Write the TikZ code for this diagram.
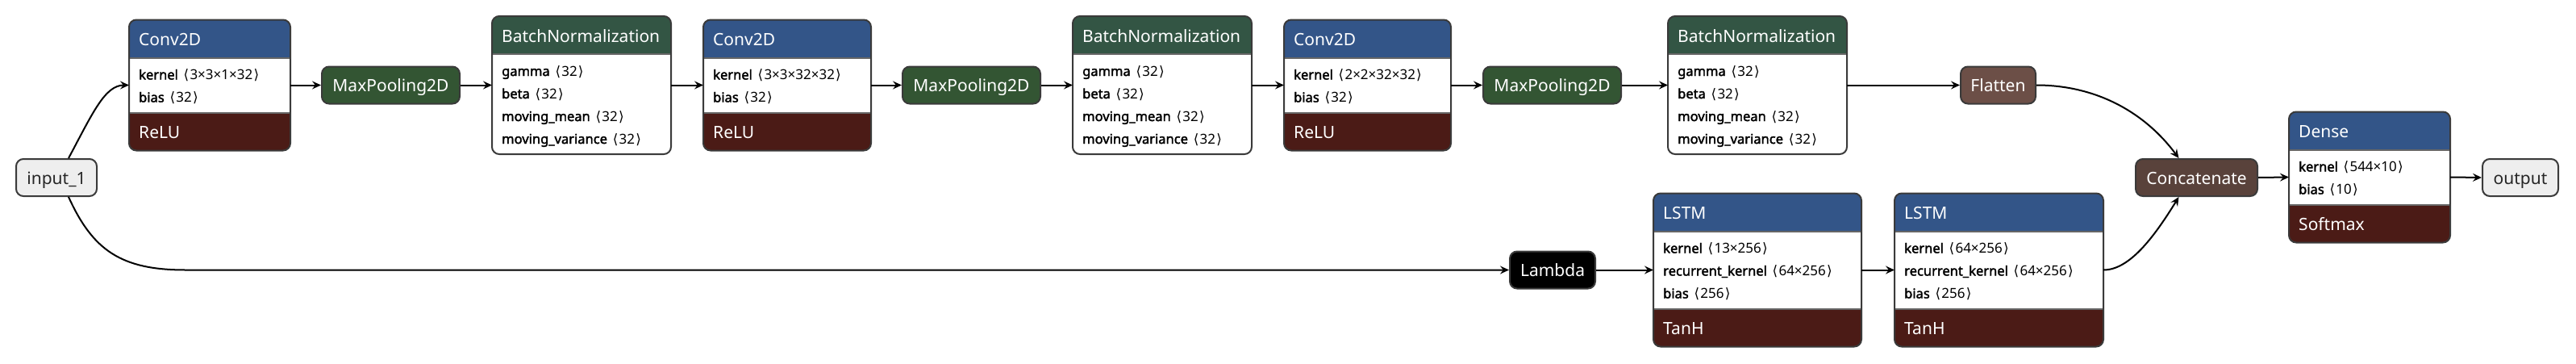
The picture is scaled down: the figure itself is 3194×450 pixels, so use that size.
\documentclass[tikz,border=0pt]{standalone}
\usepackage{fontspec}
\setmainfont{Noto Sans}[AutoFakeBold=2.2]
\newfontfamily\dvf{DejaVu Sans}
\usetikzlibrary{arrows.meta}
\definecolor{layerc}{HTML}{335588}
\definecolor{poolc}{HTML}{335533}
\definecolor{normc}{HTML}{335544}
\definecolor{actc}{HTML}{4B1B16}
\definecolor{shapec}{HTML}{6C4F47}
\definecolor{tensorc}{HTML}{59423B}
\definecolor{iocol}{HTML}{EEEEEE}
\definecolor{ol}{HTML}{3A3A3A}
\definecolor{sepc}{HTML}{666666}
\newcommand\ttlfont{\fontsize{21}{25}\selectfont}
\newcommand\rowfont{\fontsize{16.5}{20}\selectfont}
\newcommand\val[1]{{\fontsize{17}{20}\selectfont\kern2.5pt{\dvf ⟨}\kern1.2pt#1\kern1.2pt{\dvf ⟩}}}
% #1 name #2 cx #3 cy #4 width #5 nrows #6 colour #7 title #8 rows #9 activation
\newcommand\Lyr[9]{%
  \pgfmathsetmacro\LyH{47+12+28*#5}%
  \if\relax\detokenize{#9}\relax\def\LyA{0}\else\def\LyA{47}\fi
  \pgfmathsetmacro\LyHH{\LyH+\LyA}%
  \pgfmathsetmacro\LyT{#3-\LyHH/2}%
  \pgfmathsetmacro\LyE{#3+\LyHH/2}%
  \pgfmathsetmacro\LyHB{\LyT+47}%
  \pgfmathsetmacro\LyBB{\LyT+\LyH}%
  \pgfmathsetmacro\LyL{#2-#4/2}%
  \pgfmathsetmacro\LyR{#2+#4/2}%
  \begin{scope}
    \clip[rounded corners=9pt] (\LyL,\LyT) rectangle (\LyR,\LyE);
    \fill[white] (\LyL,\LyT) rectangle (\LyR,\LyE);
    \fill[#6] (\LyL,\LyT) rectangle (\LyR,\LyHB);
    \ifdim\LyA pt>0pt \fill[actc] (\LyL,\LyBB) rectangle (\LyR,\LyE);\fi
  \end{scope}
  \draw[sepl] (\LyL,\LyHB) -- (\LyR,\LyHB);
  \ifdim\LyA pt>0pt \draw[sepl] (\LyL,\LyBB) -- (\LyR,\LyBB);\fi
  \draw[outl] (\LyL,\LyT) rectangle (\LyR,\LyE);
  \node[ttl] at (\LyL+12,\LyT+32) {#7};
  \foreach \a/\b [count=\i from 0] in {#8} {\node[rowt] at (\LyL+12,\LyHB+27+28*\i) {\textbf{\a} \val{\b}};}
  \ifdim\LyA pt>0pt \node[ttl] at (\LyL+12,\LyBB+32) {#9};\fi
  \node[inner sep=0,outer sep=0,minimum width=#4pt,minimum height=\LyHH pt] (#1) at (#2,#3) {};
}
\begin{document}
\begin{tikzpicture}[x=1pt,y=-1pt,
  edge/.style={draw=black,line width=2pt,-{Stealth[length=11pt,width=10pt,inset=4pt]}},
  outl/.style={draw=ol,line width=2pt,rounded corners=9pt},
  sepl/.style={draw=sepc,line width=2pt},
  ttl/.style={anchor=base west,text=white,font=\ttlfont,inner sep=0},
  rowt/.style={anchor=base west,text=black,font=\rowfont,inner sep=0},
  smallnode/.style={rounded corners=9pt,draw=ol,line width=2pt,minimum height=46pt,inner sep=0,text height=16pt,text depth=0pt,font=\ttlfont,text=white},
]
\fill[white] (0,0) rectangle (3194,450);
\useasboundingbox (0,0) rectangle (3194,450);

% layers
\Lyr{conv1}{260}{105.5}{200}{2}{layerc}{Conv2D}{kernel/3×3×1×32,bias/32}{ReLU}
\Lyr{bn1}{721}{105.5}{222}{4}{normc}{BatchNormalization}{gamma/32,beta/32,moving\_mean/32,moving\_variance/32}{}
\Lyr{conv2}{976}{105.5}{208}{2}{layerc}{Conv2D}{kernel/3×3×32×32,bias/32}{ReLU}
\Lyr{bn2}{1441}{105.5}{222}{4}{normc}{BatchNormalization}{gamma/32,beta/32,moving\_mean/32,moving\_variance/32}{}
\Lyr{conv3}{1695.5}{105.5}{207}{2}{layerc}{Conv2D}{kernel/2×2×32×32,bias/32}{ReLU}
\Lyr{bn3}{2179}{105.5}{222}{4}{normc}{BatchNormalization}{gamma/32,beta/32,moving\_mean/32,moving\_variance/32}{}
\Lyr{dense}{2938}{219.5}{200}{2}{layerc}{Dense}{kernel/544×10,bias/10}{Softmax}
\Lyr{lstm1}{2179}{334.5}{258}{3}{layerc}{LSTM}{kernel/13×256,recurrent\_kernel/64×256,bias/256}{TanH}
\Lyr{lstm2}{2478.5}{334.5}{259}{3}{layerc}{LSTM}{kernel/64×256,recurrent\_kernel/64×256,bias/256}{TanH}

% small nodes
\node[smallnode,fill=iocol,text=black!85,minimum width=100pt] (in1) at (70,220) {input\_1};
\node[smallnode,fill=poolc,minimum width=171pt] (mp1) at (484.5,105.5) {MaxPooling2D};
\node[smallnode,fill=poolc,minimum width=171pt] (mp2) at (1204.5,105.5) {MaxPooling2D};
\node[smallnode,fill=poolc,minimum width=171pt] (mp3) at (1924.5,105.5) {MaxPooling2D};
\node[smallnode,fill=shapec,minimum width=93pt] (flat) at (2477.5,105.5) {Flatten};
\node[smallnode,fill=tensorc,minimum width=151pt] (concat) at (2723.5,220) {Concatenate};
\node[smallnode,fill=iocol,text=black!85,minimum width=94pt] (outp) at (3125,220) {output};
\node[smallnode,fill=black,minimum width=106pt] (lambda) at (1925,334.5) {Lambda};

% edges
\draw[edge] ([xshift=15pt]in1.north) .. controls (115,140) and (130,105.5) .. (conv1.west);
\draw[edge] ([xshift=15pt]in1.south) .. controls (115,310) and (150,334.5) .. (230,334.5) -- (lambda.west);
\draw[edge] (conv1.east) -- (mp1.west);
\draw[edge] (mp1.east) -- (bn1.west);
\draw[edge] (bn1.east) -- (conv2.west);
\draw[edge] (conv2.east) -- (mp2.west);
\draw[edge] (mp2.east) -- (bn2.west);
\draw[edge] (bn2.east) -- (conv3.west);
\draw[edge] (conv3.east) -- (mp3.west);
\draw[edge] (mp3.east) -- (bn3.west);
\draw[edge] (bn3.east) -- (flat.west);
\draw[edge] (flat.east) .. controls (2600,105.5) and (2660,140) .. ([xshift=-22pt]concat.north);
\draw[edge] (lambda.east) -- (lstm1.west);
\draw[edge] (lstm1.east) -- (lstm2.west);
\draw[edge] (lstm2.east) .. controls (2640,334.5) and (2670,295) .. ([xshift=-22pt]concat.south);
\draw[edge] (concat.east) -- (dense.west);
\draw[edge] (dense.east) -- (outp.west);
\end{tikzpicture}
\end{document}
